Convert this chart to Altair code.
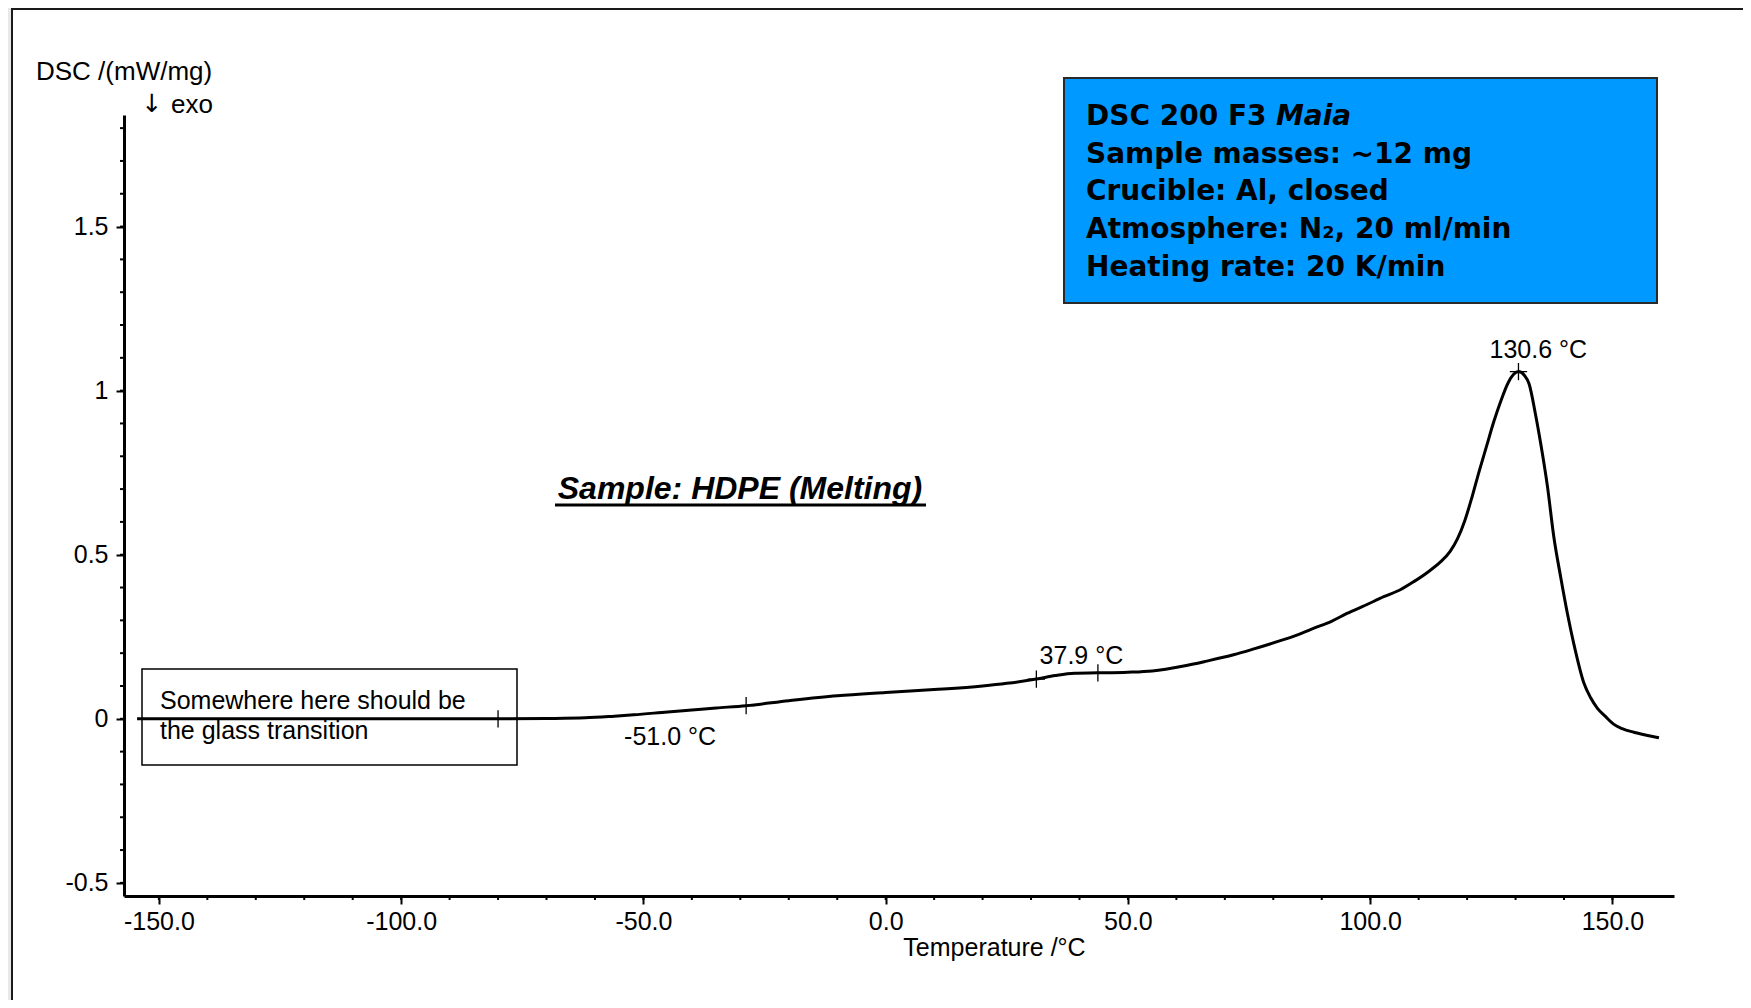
import altair as alt
import pandas as pd

# ---- curve data ----
temp = [-154.5, -140, -120, -100, -80, -70, -62, -56, -52, -45, -40, -35, -28.8,
        -20, -10, 0, 10, 20, 25, 31.1, 35, 39, 43.8, 50, 55, 61.5, 66, 71.8, 76,
        80.8, 85, 88.4, 92, 95.2, 99, 102.8, 106.3, 109, 111.8, 114.5, 116.5,
        118.0, 119.5, 121.0, 122.5, 124.0, 125.5, 127.0, 128.5, 130.6, 131.8,
        132.8, 134.1, 135.2, 136.6, 137.9, 139.3, 140.7, 142.0, 144.1, 145.5,
        146.9, 148.5, 150.3, 152, 154.4, 157, 159.6]
dsc = [0.000, 0.000, 0.000, 0.000, 0.000, 0.001, 0.003, 0.008, 0.012, 0.021,
       0.027, 0.033, 0.040, 0.055, 0.070, 0.080, 0.089, 0.100, 0.108, 0.121,
       0.132, 0.139, 0.140, 0.142, 0.146, 0.161, 0.175, 0.195, 0.213, 0.235,
       0.256, 0.276, 0.297, 0.321, 0.346, 0.372, 0.394, 0.418, 0.446, 0.478,
       0.510, 0.548, 0.603, 0.675, 0.755, 0.830, 0.905, 0.970, 1.025, 1.058,
       1.047, 1.020, 0.929, 0.838, 0.706, 0.554, 0.433, 0.321, 0.230, 0.109,
       0.064, 0.032, 0.008, -0.017, -0.030, -0.041, -0.050, -0.058]

mark_T = [-80.0, -28.8, 31.1, 43.8, 130.6]
mark_y = [0.0, 0.040, 0.121, 0.140, 1.058]

label_text = ["-51.0 °C", "37.9 °C", "130.6 °C"]
label_T = [-44.5, 40.4, 134.7]
label_y = [-0.055, 0.19, 1.123]

x_major = [-150, -100, -50, 0, 50, 100, 150]
x_minor = [-150, -140, -130, -120, -110, -100, -90, -80, -70, -60, -50, -40,
           -30, -20, -10, 0, 10, 20, 30, 40, 50, 60, 70, 80, 90, 100, 110,
           120, 130, 140, 150]
y_major = [-0.5, 0, 0.5, 1, 1.5]
y_minor = [-0.5, -0.4, -0.3, -0.2, -0.1, 0.0, 0.1, 0.2, 0.3, 0.4, 0.5, 0.6,
           0.7, 0.8, 0.9, 1.0, 1.1, 1.2, 1.3, 1.4, 1.5, 1.6, 1.7, 1.8]

info_lines = ["Sample masses:  ~12 mg", "Crucible: Al, closed",
              "Atmosphere: N₂, 20 ml/min", "Heating rate: 20 K/min"]
info_rows_y = [40, 77, 115, 153]

W, H = 1550, 781
XDOM = [-157.2, 162.7]
YDOM = [-0.540, 1.840]
ARIAL = "Liberation Sans"
BF = "DejaVu Sans"

xs = alt.Scale(domain=XDOM, nice=False, zero=False)
ys = alt.Scale(domain=YDOM, nice=False, zero=False)

one = pd.DataFrame({"a": [0]})

# page panel
panel = alt.Chart(one).mark_rect(fill="white", stroke="#1a1a1a", strokeWidth=2).encode(
    x=alt.value(-112), x2=alt.value(1700), y=alt.value(-106), y2=alt.value(1000))

curve_df = pd.DataFrame({"T": temp, "DSC": dsc})
curve = alt.Chart(curve_df).mark_line(color="black", strokeWidth=3,
                                      interpolate="monotone").encode(
    x=alt.X("T:Q", scale=xs, axis=alt.Axis(
        values=x_major, labelExpr="replace(format(datum.value, '.1f'), '\u2212', '-')",
        tickSize=8, tickWidth=2, tickColor="black", domainWidth=3, domainColor="black",
        labelFont=ARIAL, labelFontSize=25, labelColor="black", labelPadding=5,
        grid=False, title="Temperature /°C", titleFont=ARIAL, titleFontSize=25,
        titleFontWeight="normal", titleColor="black", titleX=870, titleY=51,
        titleBaseline="middle", titleAlign="center", zindex=2)),
    y=alt.Y("DSC:Q", scale=ys, axis=alt.Axis(
        values=y_major, labelExpr="replace(datum.value + '', '\u2212', '-')",
        tickSize=8, tickWidth=2, tickColor="black", domainWidth=3, domainColor="black",
        labelFont=ARIAL, labelFontSize=25, labelColor="black", labelPadding=8,
        grid=False, title=None, zindex=2)),
)

xminor = alt.Chart(pd.DataFrame({"v": x_minor})).mark_rule(color="black", strokeWidth=2).encode(
    x=alt.X("v:Q", scale=xs), y=alt.value(H), y2=alt.value(H + 4))
yminor = alt.Chart(pd.DataFrame({"v": y_minor})).mark_rule(color="black", strokeWidth=2).encode(
    y=alt.Y("v:Q", scale=ys), x=alt.value(-4), x2=alt.value(0))

cross_df = pd.DataFrame({"T": mark_T, "DSC": mark_y})
crosses = alt.Chart(cross_df).mark_point(
    shape="M-1,0L1,0M0,-1L0,1", filled=False, stroke="black", strokeWidth=1.3,
    size=300, opacity=1).encode(x=alt.X("T:Q", scale=xs), y=alt.Y("DSC:Q", scale=ys))

lab_df = pd.DataFrame({"T": label_T, "DSC": label_y, "t": label_text})
labels = alt.Chart(lab_df).mark_text(font=ARIAL, fontSize=25, color="black",
                                     align="center", baseline="middle").encode(
    x=alt.X("T:Q", scale=xs), y=alt.Y("DSC:Q", scale=ys), text="t:N")


def ptext(txt, x, y, **kw):
    return alt.Chart(one).mark_text(text=txt, color="black", baseline="middle", **kw).encode(
        x=alt.value(x), y=alt.value(y))


# y-axis title texts
ytitle = ptext("DSC /(mW/mg)", -88, -43, font=ARIAL, fontSize=26, align="left")
arrow = ptext("↓", 28, -11, font=BF, fontSize=25, align="center")
exo = ptext("exo", 89, -10, font=ARIAL, fontSize=26, align="right")

# glass transition box
gbox = alt.Chart(one).mark_rect(fill=None, stroke="black", strokeWidth=1.5).encode(
    x=alt.value(18), x2=alt.value(393), y=alt.value(554), y2=alt.value(650))
gtxt1 = ptext("Somewhere here should be", 36, 586, font=ARIAL, fontSize=25, align="left")
gtxt2 = ptext("the glass transition", 36, 616, font=ARIAL, fontSize=25, align="left")

# sample title
stitle = ptext("Sample: HDPE (Melting)", 616, 374, font=ARIAL, fontSize=32,
               fontWeight="bold", fontStyle="italic", align="center")
sline = alt.Chart(one).mark_rule(color="black", strokeWidth=3).encode(
    x=alt.value(431), x2=alt.value(802), y=alt.value(390))

# info box
ibox = alt.Chart(one).mark_rect(fill="#0099ff", stroke="#2a2a2a", strokeWidth=2).encode(
    x=alt.value(940), x2=alt.value(1533), y=alt.value(-37), y2=alt.value(188))
info_layers = [
    ptext("DSC 200 F3", 962, 2, font=BF, fontSize=28, fontWeight="bold", align="left"),
    ptext("Maia", 1152, 2, font=BF, fontSize=28, fontWeight="bold", fontStyle="italic",
          align="left"),
]
for txt, yy in zip(info_lines, info_rows_y):
    info_layers.append(ptext(txt, 962, yy, font=BF, fontSize=28, fontWeight="bold",
                             align="left"))

chart = alt.layer(
    panel, gbox, xminor, yminor, curve, crosses, labels, ytitle, arrow, exo, gtxt1, gtxt2,
    stitle, sline, ibox, *info_layers
).properties(
    width=W, height=H,
    autosize=alt.AutoSizeParams(type="none"),
    padding={"left": 116, "top": 107, "right": 69, "bottom": 104},
    background="#e8e8e8",
).configure_view(strokeWidth=0)

chart.save("out.html", embed_options={"renderer": "svg", "actions": False})
